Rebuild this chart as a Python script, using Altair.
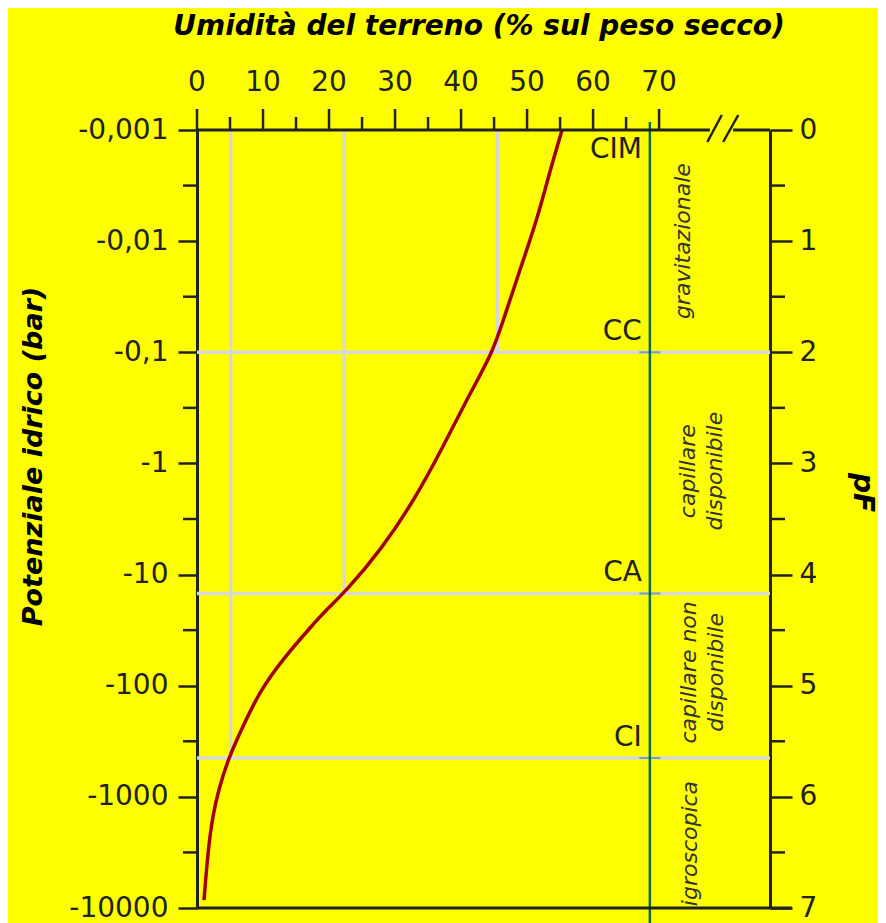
import altair as alt
import pandas as pd

# ---- data ----
curve_pf = [0, 0.36, 0.81, 1.26, 1.71, 2.0, 2.42, 2.87, 3.32, 3.77, 4.16, 4.31, 4.46,
            4.76, 5.05, 5.36, 5.66, 5.95, 6.17, 6.46, 6.93]
curve_moist = [55.3, 53.5, 51.5, 48.9, 46.4, 44.8, 40.9, 37.1, 33.0, 28.0, 22.4, 19.7, 17.4,
               13.0, 9.5, 7.0, 4.7, 3.2, 2.4, 1.7, 1.06]

thr_names = ["CIM", "CC", "CA", "CI"]
thr_pf = [0, 2, 4.17, 5.65]
thr_moist = [55.3, 45.5, 22.3, 5.1]

region_text = [["gravitazionale"], ["capillare", "disponibile"],
               ["capillare non", "disponibile"], ["igroscopica"]]
region_pf = [1.0, 3.07, 4.88, 6.42]
region_moist = [73.6, 74.4, 74.6, 74.7]

bar_labels = ["-0,001", "-0,01", "-0,1", "-1", "-10", "-100", "-1000", "-10000"]
pf_ticks = [0, 1, 2, 3, 4, 5, 6, 7]
pf_minor = [0.5, 1.5, 2.5, 3.5, 4.5, 5.5, 6.5]
moist_ticks = [0, 10, 20, 30, 40, 50, 60, 70]
moist_minor = [5, 15, 25, 35, 45, 55, 65]
green_moist = 68.6
x_max = 86.8
axis_seg_start = [0, 81.2]
axis_seg_end = [77.7, 86.8]
break_start = [77.3, 79.7]
break_end = [79.5, 82.0]

x_title = "Umidità del terreno (% sul peso secco)"
y_title = "Potenziale idrico (bar)"
y2_title = "pF"

W, H = 573, 778
FONT = "DejaVu Sans"
DARK = "#222222"

xs = alt.Scale(domain=[0, x_max], nice=False, zero=False)
ys = alt.Scale(domain=[0, 7], reverse=True, nice=False, zero=False)

curve_df = pd.DataFrame({"pf": curve_pf, "m": curve_moist})
thr_df = pd.DataFrame({"name": thr_names, "pf": thr_pf, "m": thr_moist, "top": [0] * 4})
hgrid_df = thr_df[thr_df.pf > 0]
reg_df = pd.DataFrame({"t": region_text, "pf": region_pf, "m": region_moist})
xt_df = pd.DataFrame({"m": moist_ticks, "lab": [str(v) for v in moist_ticks]})

labels_expr = "[" + ",".join("'%s'" % s for s in bar_labels) + "][round(datum.value)]"

# ---- top axis drawn by hand (ticks, labels, title) ----
top_minor = alt.Chart(pd.DataFrame({"m": moist_minor})).mark_rule(
    color=DARK, strokeWidth=2.5).encode(
    x=alt.X("m:Q", scale=xs, axis=None), y=alt.value(-13), y2=alt.value(0))
top_major = alt.Chart(xt_df).mark_rule(color=DARK, strokeWidth=2.5).encode(
    x=alt.X("m:Q", scale=xs, axis=None), y=alt.value(-21), y2=alt.value(0))
top_labels = alt.Chart(xt_df).mark_text(
    font=FONT, fontSize=28, color=DARK, align="center", baseline="alphabetic").encode(
    x=alt.X("m:Q", scale=xs, axis=None), y=alt.value(-39), text="lab:N")
top_title = alt.Chart(pd.DataFrame({"t": [x_title]})).mark_text(
    font=FONT, fontSize=28, fontWeight="bold", fontStyle="italic", color="black",
    align="center", baseline="middle").encode(
    x=alt.value(282), y=alt.value(-103), text="t:N")

# horizontal gridlines
hgrid = alt.Chart(hgrid_df).mark_rule(color="#d8d8d8", strokeWidth=3.5).encode(
    y=alt.Y("pf:Q", scale=ys, axis=None), x=alt.value(0), x2=alt.value(W))
# vertical gridlines
vgrid = alt.Chart(hgrid_df).mark_rule(color="#d8d8d8", strokeWidth=3.5).encode(
    x=alt.X("m:Q", scale=xs, axis=None),
    y=alt.Y("top:Q", scale=ys, axis=None), y2="pf:Q")

# green line
green = alt.Chart(pd.DataFrame({"m": [green_moist]})).mark_rule(
    color="#0b6b3a", strokeWidth=2.5).encode(
    x=alt.X("m:Q", scale=xs, axis=None), y=alt.value(-8), y2=alt.value(H + 17))
green_ticks = alt.Chart(pd.DataFrame({"pf": thr_pf + [7], "a": [green_moist - 1.6] * 5,
                                      "b": [green_moist + 1.6] * 5})).mark_rule(
    color="#0b6b3a", strokeWidth=2, opacity=0.45).encode(
    y=alt.Y("pf:Q", scale=ys, axis=None), x=alt.X("a:Q", scale=xs, axis=None), x2="b:Q")

# curve (carries left axis)
curve = alt.Chart(curve_df).mark_line(color="#a3000f", strokeWidth=3.5,
                                      interpolate="basis").encode(
    x=alt.X("m:Q", scale=xs, axis=None),
    y=alt.Y("pf:Q", scale=ys, axis=alt.Axis(
        orient="left", values=pf_ticks, labelExpr=labels_expr, tickSize=19, tickWidth=2.5,
        tickColor=DARK, domainColor=DARK, domainWidth=3, grid=False, labelFont=FONT,
        labelFontSize=28, labelColor=DARK, labelPadding=10, labelFlush=False,
        title=y_title, titleFont=FONT, titleFontSize=27,
        titleFontWeight="bold", titleFontStyle="italic", titleColor="black",
        titleX=-164, titleY=326, titleAngle=270, titleBaseline="middle", titleAlign="center")),
    order="m:Q")

# right axis layer (minor ticks on the right)
right_minor = alt.Chart(pd.DataFrame({"pf": pf_minor})).mark_rule(
    color=DARK, strokeWidth=2.5).encode(
    y=alt.Y("pf:Q", scale=ys, axis=alt.Axis(
        orient="right", values=pf_ticks, format="d", tickSize=22, tickWidth=2.5,
        tickColor=DARK, domainColor=DARK, domainWidth=3, grid=False, labelFont=FONT,
        labelFontSize=28, labelColor=DARK, labelPadding=7, labelFlush=False,
        title=y2_title, titleFont=FONT, titleFontSize=28, titleFontWeight="bold",
        titleFontStyle="italic", titleColor="black", titleX=91, titleY=362,
        titleAngle=90, titleBaseline="middle", titleAlign="center")),
    x=alt.value(W), x2=alt.value(W + 15))

left_minor = alt.Chart(pd.DataFrame({"pf": pf_minor})).mark_rule(
    color=DARK, strokeWidth=2.5).encode(
    y=alt.Y("pf:Q", scale=ys, axis=None), x=alt.value(-14), x2=alt.value(0))

top_line = alt.Chart(pd.DataFrame({"a": axis_seg_start, "b": axis_seg_end})).mark_rule(
    color=DARK, strokeWidth=3).encode(
    x=alt.X("a:Q", scale=xs, axis=None), x2="b:Q", y=alt.value(0))

breaks = alt.Chart(pd.DataFrame({"a": break_start, "b": break_end})).mark_rule(
    color=DARK, strokeWidth=2.5).encode(
    x=alt.X("a:Q", scale=xs, axis=None), x2="b:Q", y=alt.value(12), y2=alt.value(-15))

bottom_line = alt.Chart(pd.DataFrame({"pf": [7]})).mark_rule(
    color=DARK, strokeWidth=3).encode(
    y=alt.Y("pf:Q", scale=ys, axis=None), x=alt.value(0), x2=alt.value(W + 22))

# threshold labels
lab_top = alt.Chart(thr_df[thr_df.pf == 0]).mark_text(
    font=FONT, fontSize=28, color=DARK, align="right", baseline="top", dy=6, dx=-8).encode(
    x=alt.X("m_g:Q", scale=xs, axis=None), y=alt.Y("pf:Q", scale=ys, axis=None),
    text="name:N").transform_calculate(m_g=str(green_moist))
lab_other = alt.Chart(thr_df[thr_df.pf > 0]).mark_text(
    font=FONT, fontSize=28, color=DARK, align="right", baseline="bottom", dy=-6, dx=-8).encode(
    x=alt.X("m_g:Q", scale=xs, axis=None), y=alt.Y("pf:Q", scale=ys, axis=None),
    text="name:N").transform_calculate(m_g=str(green_moist))

regions = alt.Chart(reg_df).mark_text(
    font=FONT, fontSize=22, fontStyle="italic", color="#333333", angle=270,
    align="center", baseline="middle", lineHeight=27).encode(
    x=alt.X("m:Q", scale=xs, axis=None), y=alt.Y("pf:Q", scale=ys, axis=None), text="t")

chart = alt.layer(
    hgrid, vgrid, green, green_ticks, curve, right_minor, left_minor,
    top_minor, top_major, top_labels, top_title,
    top_line, breaks, bottom_line, lab_top, lab_other, regions
).resolve_scale(y="independent").properties(
    width=W, height=H, background="#ffff00",
    autosize=alt.AutoSizeParams(type="none"),
    padding={"left": 189, "top": 122, "right": 108, "bottom": 15}
).configure_view(stroke=None)

chart.save("out.html", embed_options={"renderer": "svg", "actions": False})
